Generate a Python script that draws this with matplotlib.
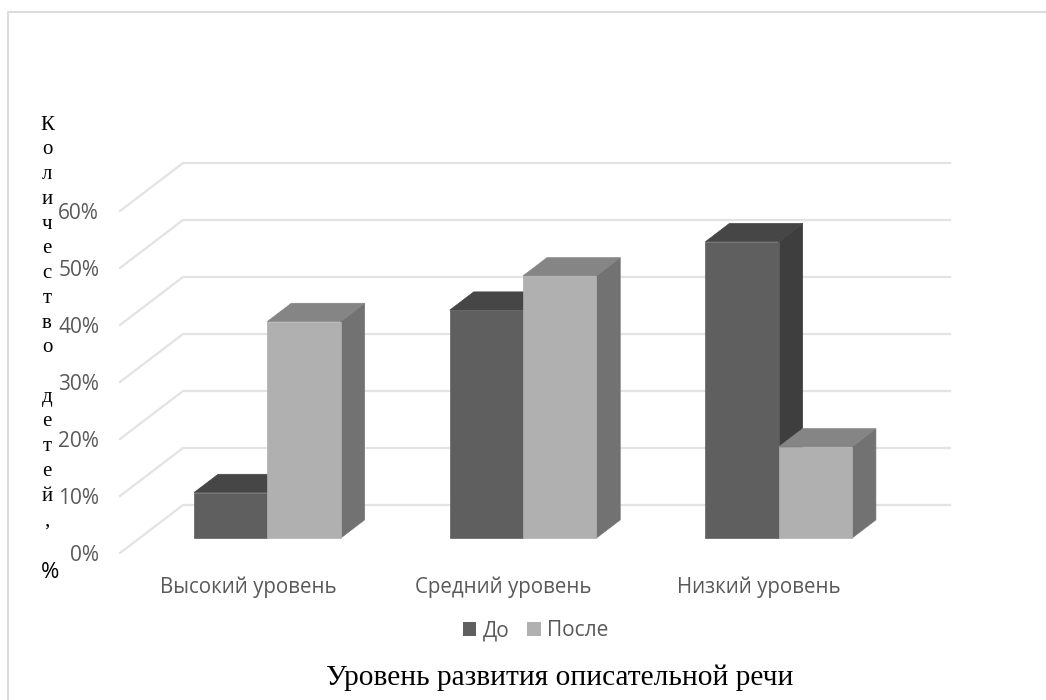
import matplotlib
matplotlib.use("Agg")
from matplotlib import pyplot as plt
from matplotlib.lines import Line2D
from matplotlib.patches import Polygon, Patch

categories = ["Высокий уровень", "Средний уровень", "Низкий уровень"]
before = [8, 40, 52]
after = [38, 46, 16]
y_ticks = [0, 10, 20, 30, 40, 50, 60]
series_names = ["До", "После"]
y_title = "Количество детей,"
x_title = "Уровень развития описательной речи"

W, H = 1046, 700
UI_FONT = "Open Sans"
SERIF = "Liberation Serif"
TEXT_GREY = "#595959"

# colours: front, top, side
before_cols = ("#5f5f5f", "#464646", "#3e3e3e")
after_cols = ("#b0b0b0", "#858585", "#727272")

# fake 3d: a depth of 1 goes from the front edge of the floor to the back wall
DX = 63 / 255.67
DY = 48 / 5.7
BAR_W = 0.2865
BAR_D0 = 0.31
BAR_D1 = 0.69


def pt(x, y, d=0):
    return (x + d * DX, y + d * DY)


def draw_bar(ax, left, value, cols, z):
    right = left + BAR_W
    front = [pt(left, 0, BAR_D0), pt(right, 0, BAR_D0), pt(right, value, BAR_D0), pt(left, value, BAR_D0)]
    top = [pt(left, value, BAR_D0), pt(right, value, BAR_D0), pt(right, value, BAR_D1), pt(left, value, BAR_D1)]
    side = [pt(right, 0, BAR_D0), pt(right, 0, BAR_D1), pt(right, value, BAR_D1), pt(right, value, BAR_D0)]
    for verts, col in zip((side, top, front), (cols[2], cols[1], cols[0])):
        ax.add_patch(Polygon(verts, closed=True, facecolor=col, edgecolor=col, linewidth=0.5, zorder=z, clip_on=False))


fig = plt.figure(figsize=(W / 100, H / 100), dpi=100)
# only the top and left edges of the frame show in the picture
fig.add_artist(Line2D([7.5 / W, 7.5 / W, 1], [0, 1 - 12 / H, 1 - 12 / H], color="#dcdcdc", lw=1.5))

ax = fig.add_axes([120 / W, 1 - 553 / H, 767 / W, 342 / H])
ax.set_xlim(-0.5, 2.5)
ax.set_ylim(0, 60)
ax.patch.set_alpha(0)
for s in ax.spines.values():
    s.set_visible(False)

# back wall lines and the slanted lines on the side wall
for t in y_ticks:
    a, b, c = pt(-0.5, t), pt(-0.5, t, 1), pt(2.5, t, 1)
    ax.plot([a[0], b[0], c[0]], [a[1], b[1], c[1]], color="#e3e3e3", lw=1.6, clip_on=False, zorder=1)

# the right hand bars are drawn first so that the left ones sit on top
for i in range(len(categories) - 1, -1, -1):
    draw_bar(ax, i - BAR_W, before[i], before_cols, 3)
    draw_bar(ax, i, after[i], after_cols, 4)

ax.set_yticks(y_ticks)
ax.set_yticklabels([f"{t}%" for t in y_ticks], fontname=UI_FONT, fontsize=15, color=TEXT_GREY)
ax.set_xticks(range(len(categories)))
ax.set_xticklabels(categories, fontname=UI_FONT, fontsize=14.8, color=TEXT_GREY)
ax.tick_params(axis="y", length=0, pad=15)
ax.tick_params(axis="x", length=0, pad=17)

handles = [Patch(facecolor=before_cols[0]), Patch(facecolor=after_cols[0])]
fig.legend(handles, series_names, loc="center", bbox_to_anchor=(535.5 / W, 1 - 631 / H), ncol=2, frameon=False,
           prop={"family": UI_FONT, "size": 15}, labelcolor=TEXT_GREY, handlelength=0.66, handleheight=0.66,
           handletextpad=0.29, columnspacing=0.86)

fig.text(560 / W, 1 - 678 / H, x_title, ha="center", va="center", fontname=SERIF, fontsize=21.2, color="black")
fig.text(47 / W, 1 - 323 / H, "\n".join(y_title), ha="center", va="center", fontname=SERIF,
         fontsize=15, color="black", linespacing=1.41)
fig.text(50 / W, 1 - 573 / H, "%", ha="center", va="center", fontname=UI_FONT, fontsize=16, color="black")

fig.savefig("out.png", dpi=100)
